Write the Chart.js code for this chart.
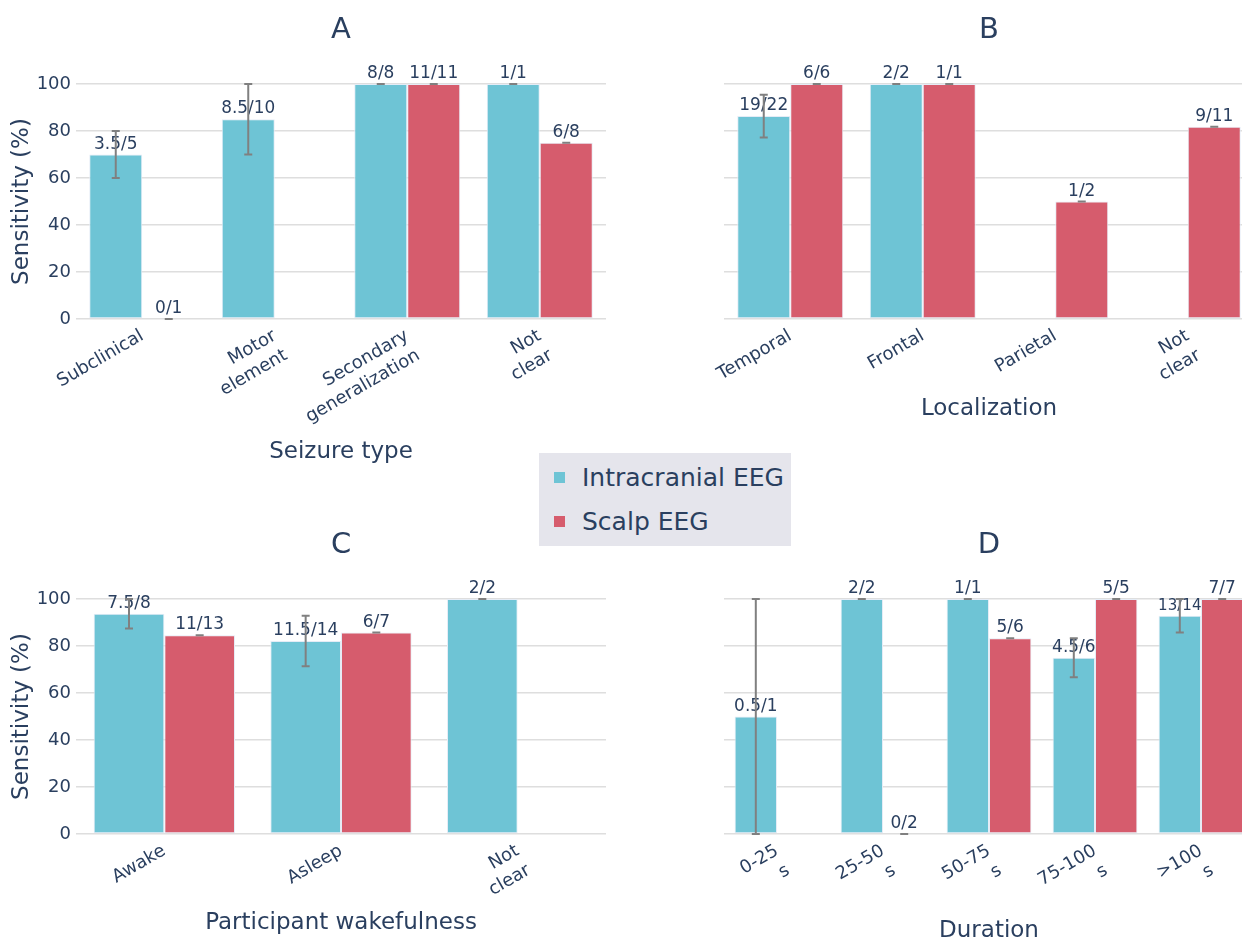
<!DOCTYPE html>
<html>
<head>
<meta charset="utf-8">
<script src="https://cdn.jsdelivr.net/npm/chart.js@4.4.1/dist/chart.umd.min.js"></script>
<style>
  html, body { margin: 0; padding: 0; background: #ffffff; overflow: hidden; }
  #fig { position: relative; width: 1242px; height: 939px; overflow: hidden; }
  #fig canvas { position: absolute; left: 0; top: 0; }
  #legend { position: absolute; left: 539px; top: 453px; width: 252px; height: 93px;
            background: #E5E5EC; font-family: 'DejaVu Sans', Verdana, sans-serif;
            font-size: 25px; color: #2a3f5f; }
  #legend .item { position: absolute; left: 15px; height: 30px; line-height: 30px; white-space: nowrap; }
  #legend .sw { display: inline-block; width: 11px; height: 11px; margin-right: 17px; vertical-align: middle; position: relative; top: -2px; }
</style>
</head>
<body>
<div id="fig">
  <canvas id="chartA" width="1300" height="980"></canvas>
  <canvas id="chartB" width="1300" height="980"></canvas>
  <canvas id="chartC" width="1300" height="980"></canvas>
  <canvas id="chartD" width="1300" height="980"></canvas>
  <div id="legend"></div>
</div>
<script>
// Series
const seriesNames = ['Intracranial EEG', 'Scalp EEG'];
const seriesColors = ['#6EC4D5', '#D65C6D'];

// A: seizure type
const seizureTypes = ['Subclinical', ['Motor', 'element'], ['Secondary', 'generalization'], ['Not', 'clear']];
const seizureIntra = [70, 85, 100, 100];
const seizureIntraText = ['3.5/5', '8.5/10', '8/8', '1/1'];
const seizureIntraLow = [60, 70, 100, 100];
const seizureIntraHigh = [80, 100, 100, 100];
const seizureScalp = [0, null, 100, 75];
const seizureScalpText = ['0/1', '', '11/11', '6/8'];
const seizureScalpLow = [0, null, 100, 75];
const seizureScalpHigh = [0, null, 100, 75];

// B: localization
const localizations = ['Temporal', 'Frontal', 'Parietal', ['Not', 'clear']];
const locIntra = [86.36, 100, null, null];
const locIntraText = ['19/22', '2/2', '', ''];
const locIntraLow = [77.27, 100, null, null];
const locIntraHigh = [95.45, 100, null, null];
const locScalp = [100, 100, 50, 81.82];
const locScalpText = ['6/6', '1/1', '1/2', '9/11'];
const locScalpLow = [100, 100, 50, 81.82];
const locScalpHigh = [100, 100, 50, 81.82];

// C: participant wakefulness
const wakefulness = ['Awake', 'Asleep', ['Not', 'clear']];
const wakeIntra = [93.75, 82.14, 100];
const wakeIntraText = ['7.5/8', '11.5/14', '2/2'];
const wakeIntraLow = [87.5, 71.43, 100];
const wakeIntraHigh = [100, 92.86, 100];
const wakeScalp = [84.62, 85.71, null];
const wakeScalpText = ['11/13', '6/7', ''];
const wakeScalpLow = [84.62, 85.71, null];
const wakeScalpHigh = [84.62, 85.71, null];

// D: duration
const durations = [['0-25', 's'], ['25-50', 's'], ['50-75', 's'], ['75-100', 's'], ['>100', 's']];
const durIntra = [50, 100, 100, 75, 92.86];
const durIntraText = ['0.5/1', '2/2', '1/1', '4.5/6', '13/14'];
const durIntraLow = [0, 100, 100, 66.67, 85.71];
const durIntraHigh = [100, 100, 100, 83.33, 100];
const durScalp = [null, 0, 83.33, 100, 100];
const durScalpText = ['', '0/2', '5/6', '5/5', '7/7'];
const durScalpLow = [null, 0, 83.33, 100, 100];
const durScalpHigh = [null, 0, 83.33, 100, 100];

const yTicks = [0, 20, 40, 60, 80, 100];

const TEXT = '#2a3f5f';
const FONT = "'DejaVu Sans', Verdana, sans-serif";
const CW = 1300, CH = 980;

Chart.defaults.font.family = FONT;
Chart.defaults.color = TEXT;

// Value labels above the bars, then the error bars on top of them
const barAnnotations = {
  id: 'barAnnotations',
  afterDatasetsDraw(chart, args, opts) {
    const ctx = chart.ctx;
    const yScale = chart.scales.y;
    ctx.save();
    chart.data.datasets.forEach((ds, di) => {
      const meta = chart.getDatasetMeta(di);
      meta.data.forEach((bar, i) => {
        if (ds.data[i] === null || !ds.valueText[i]) return;
        const txt = ds.valueText[i];
        let size = opts.fontSize;
        ctx.font = size + 'px ' + FONT;
        const w = ctx.measureText(txt).width;
        const maxW = bar.width + 1;
        if (w > maxW) {
          size = size * maxW / w;
          ctx.font = size + 'px ' + FONT;
        }
        ctx.fillStyle = TEXT;
        ctx.textAlign = 'center';
        ctx.textBaseline = 'alphabetic';
        ctx.fillText(txt, bar.x, bar.y - opts.gap);
      });
    });
    ctx.strokeStyle = opts.errColor;
    ctx.lineWidth = opts.errWidth;
    chart.data.datasets.forEach((ds, di) => {
      const meta = chart.getDatasetMeta(di);
      meta.data.forEach((bar, i) => {
        if (ds.data[i] === null || ds.errLow[i] === null) return;
        const top = yScale.getPixelForValue(ds.errHigh[i]);
        const bot = yScale.getPixelForValue(ds.errLow[i]);
        const c = opts.cap;
        ctx.beginPath();
        ctx.moveTo(bar.x, top); ctx.lineTo(bar.x, bot);
        ctx.moveTo(bar.x - c, top); ctx.lineTo(bar.x + c, top);
        ctx.moveTo(bar.x - c, bot); ctx.lineTo(bar.x + c, bot);
        ctx.stroke();
      });
    });
    ctx.restore();
  }
};

// Panel letter centred over the plot area
const panelTitle = {
  id: 'panelTitle',
  afterDraw(chart, args, opts) {
    const a = chart.chartArea;
    const ctx = chart.ctx;
    ctx.save();
    ctx.font = opts.size + 'px ' + FONT;
    ctx.fillStyle = TEXT;
    ctx.textAlign = 'center';
    ctx.textBaseline = 'middle';
    ctx.fillText(opts.text, (a.left + a.right) / 2, a.top - opts.offset);
    ctx.restore();
  }
};

function makePanel(id, p) {
  const yAxisWidth = p.showY ? p.area.left - p.padLeft : 0;
  const padLeft = p.showY ? p.padLeft : p.area.left;
  return new Chart(document.getElementById(id), {
    type: 'bar',
    data: {
      labels: p.categories,
      datasets: [
        { label: seriesNames[0], data: p.intra, valueText: p.intraText, errLow: p.intraLow, errHigh: p.intraHigh,
          backgroundColor: seriesColors[0] },
        { label: seriesNames[1], data: p.scalp, valueText: p.scalpText, errLow: p.scalpLow, errHigh: p.scalpHigh,
          backgroundColor: seriesColors[1] }
      ]
    },
    options: {
      responsive: false,
      animation: false,
      events: [],
      datasets: { bar: { categoryPercentage: 0.8, barPercentage: 1.0, borderColor: '#E5ECF6', borderWidth: 1, borderSkipped: false } },
      layout: { padding: { left: padLeft, right: CW - p.area.right, top: p.area.top, bottom: CH - p.xBottom } },
      plugins: {
        legend: { display: false },
        tooltip: { enabled: false },
        panelTitle: { text: p.letter, size: 29, offset: 54 },
        barAnnotations: { fontSize: 17, gap: 6, errColor: '#808080', errWidth: 2, cap: 4 }
      },
      scales: {
        x: {
          grid: { display: false, drawTicks: false },
          border: { display: false },
          ticks: { autoSkip: false, minRotation: 30, maxRotation: 30, padding: 6,
                   font: { size: 18, lineHeight: 1.25 }, color: TEXT },
          title: { display: true, text: p.xTitle, font: { size: 23 }, color: TEXT, padding: 0 },
          afterFit(s) { s.height = p.xBottom - p.area.bottom; }
        },
        y: {
          min: 0, max: 100,
          afterBuildTicks(s) { s.ticks = yTicks.map(v => ({ value: v })); },
          ticks: { display: p.showY, font: { size: 18 }, padding: 5, color: TEXT },
          grid: { color: '#DEDEDE', lineWidth: 1.5, drawTicks: false },
          border: { display: false },
          title: { display: p.showY, text: 'Sensitivity (%)', font: { size: 23 }, color: TEXT, padding: 0 },
          afterFit(s) { s.width = yAxisWidth; }
        }
      }
    },
    plugins: [barAnnotations, panelTitle]
  });
}

makePanel('chartA', {
  letter: 'A', xTitle: 'Seizure type', showY: true, padLeft: 8,
  area: { left: 76, right: 606, top: 84, bottom: 319 }, xBottom: 465.8,
  categories: seizureTypes,
  intra: seizureIntra, intraText: seizureIntraText, intraLow: seizureIntraLow, intraHigh: seizureIntraHigh,
  scalp: seizureScalp, scalpText: seizureScalpText, scalpLow: seizureScalpLow, scalpHigh: seizureScalpHigh
});
makePanel('chartB', {
  letter: 'B', xTitle: 'Localization', showY: false, padLeft: 0,
  area: { left: 724, right: 1254, top: 84, bottom: 319 }, xBottom: 422.8,
  categories: localizations,
  intra: locIntra, intraText: locIntraText, intraLow: locIntraLow, intraHigh: locIntraHigh,
  scalp: locScalp, scalpText: locScalpText, scalpLow: locScalpLow, scalpHigh: locScalpHigh
});
makePanel('chartC', {
  letter: 'C', xTitle: 'Participant wakefulness', showY: true, padLeft: 8,
  area: { left: 76, right: 606, top: 599, bottom: 834 }, xBottom: 936.8,
  categories: wakefulness,
  intra: wakeIntra, intraText: wakeIntraText, intraLow: wakeIntraLow, intraHigh: wakeIntraHigh,
  scalp: wakeScalp, scalpText: wakeScalpText, scalpLow: wakeScalpLow, scalpHigh: wakeScalpHigh
});
makePanel('chartD', {
  letter: 'D', xTitle: 'Duration', showY: false, padLeft: 0,
  area: { left: 724, right: 1254, top: 599, bottom: 834 }, xBottom: 944.8,
  categories: durations,
  intra: durIntra, intraText: durIntraText, intraLow: durIntraLow, intraHigh: durIntraHigh,
  scalp: durScalp, scalpText: durScalpText, scalpLow: durScalpLow, scalpHigh: durScalpHigh
});

// Shared legend
const legend = document.getElementById('legend');
seriesNames.forEach((name, i) => {
  const item = document.createElement('div');
  item.className = 'item';
  item.style.top = (10 + i * 44) + 'px';
  const sw = document.createElement('span');
  sw.className = 'sw';
  sw.style.background = seriesColors[i];
  item.appendChild(sw);
  item.appendChild(document.createTextNode(name));
  legend.appendChild(item);
});
</script>
</body>
</html>
